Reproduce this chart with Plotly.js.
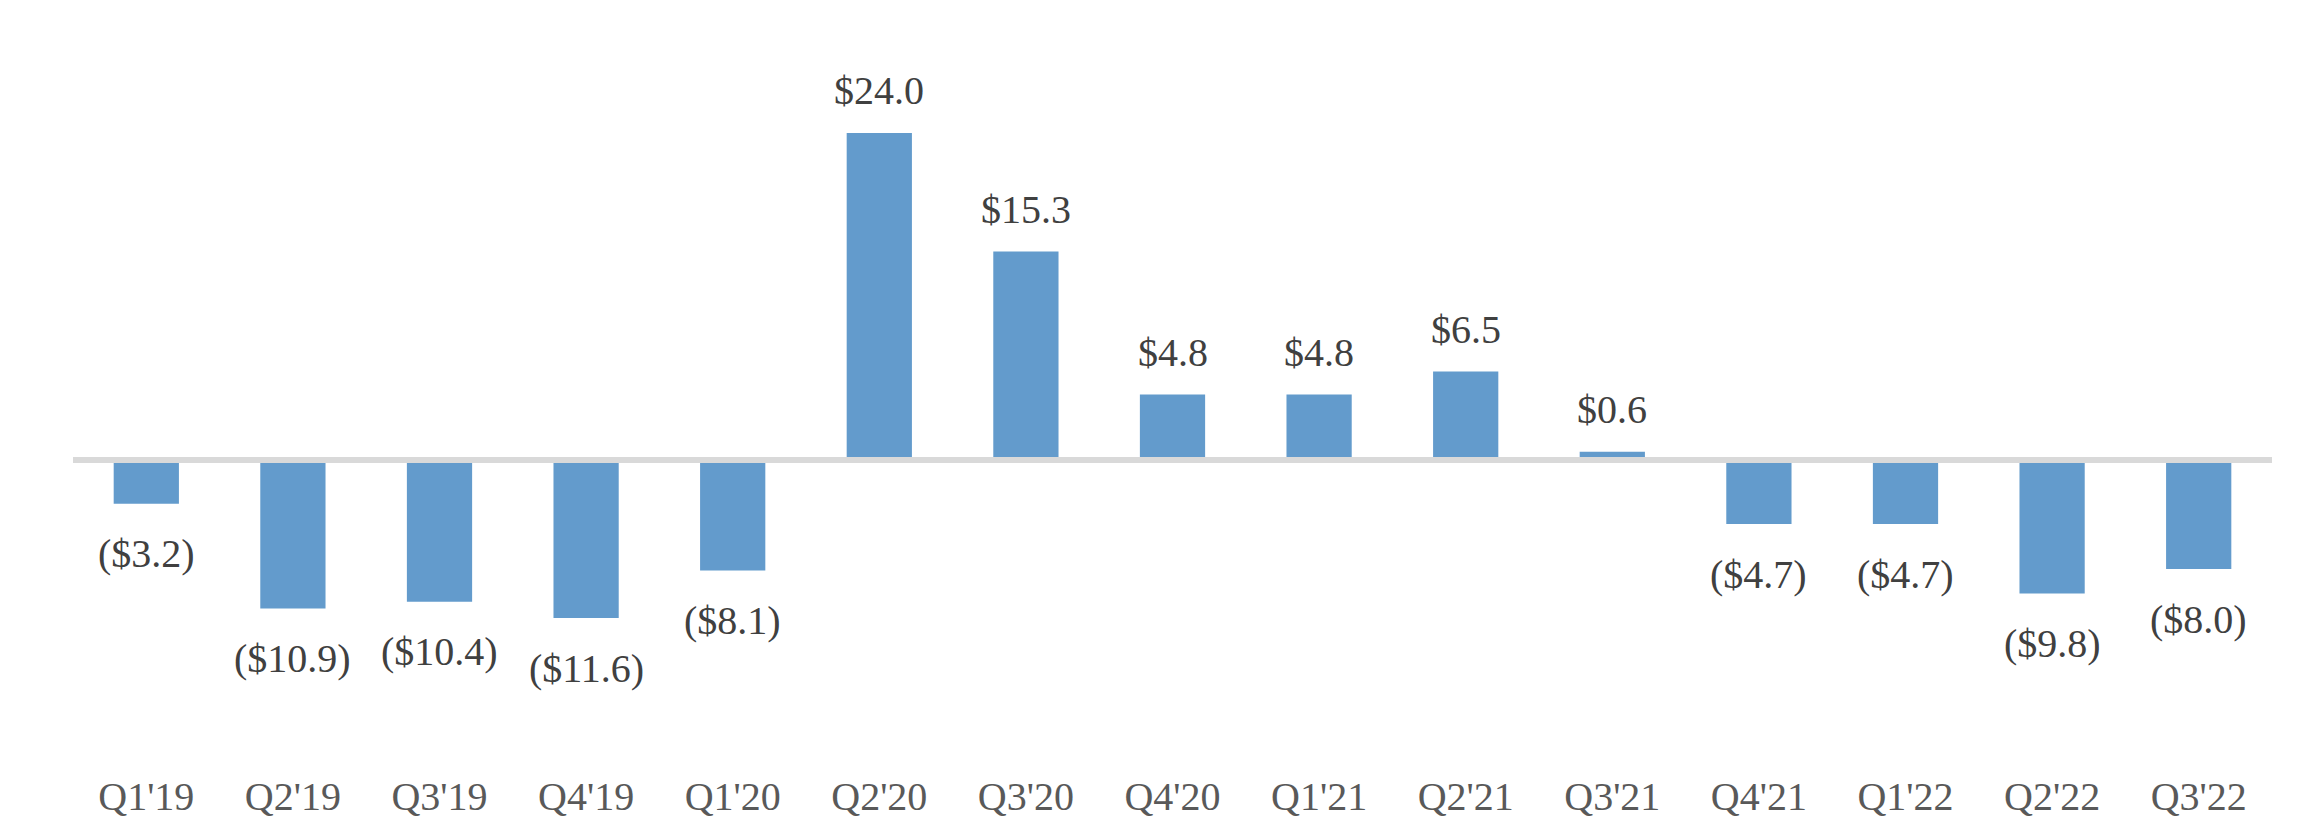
<!DOCTYPE html>
<html>
<head>
<meta charset="utf-8">
<script src="https://cdn.plot.ly/plotly-3.0.1.min.js"></script>
<style>
  html, body { margin: 0; padding: 0; background: #ffffff; }
  #chart { width: 2316px; height: 839px; }
</style>
</head>
<body>
<div id="chart"></div>
<script>
// Data (in $ millions)
const quarters = ["Q1'19", "Q2'19", "Q3'19", "Q4'19", "Q1'20", "Q2'20", "Q3'20", "Q4'20",
                  "Q1'21", "Q2'21", "Q3'21", "Q4'21", "Q1'22", "Q2'22", "Q3'22"];
const values = [-3.2, -10.9, -10.4, -11.6, -8.1, 24.0, 15.3, 4.8, 4.8, 6.5, 0.6, -4.7, -4.7, -9.8, -8.0];

function fmt(v) {
  const s = '$' + Math.abs(v).toFixed(1);
  return v < 0 ? '(' + s + ')' : s;
}

const barTrace = {
  type: 'bar',
  x: quarters,
  y: values,
  marker: { color: '#639bcc' },
  hoverinfo: 'x+y',
  showlegend: false
};

const annotations = quarters.map((q, i) => ({
  x: q,
  y: values[i],
  xref: 'x',
  yref: 'y',
  text: fmt(values[i]),
  showarrow: false,
  yanchor: 'middle',
  yshift: values[i] >= 0 ? 42 : -50,
  font: { family: 'Liberation Serif, Times New Roman, serif', size: 40, color: '#404040' }
}));

const layout = {
  width: 2316,
  height: 839,
  paper_bgcolor: '#ffffff',
  plot_bgcolor: '#ffffff',
  margin: { l: 73, r: 44, t: 30, b: 70 },
  bargap: 0.555,
  showlegend: false,
  xaxis: {
    type: 'category',
    showgrid: false,
    showline: false,
    zeroline: false,
    ticks: '',
    tickfont: { family: 'Liberation Serif, Times New Roman, serif', size: 40, color: '#595959' }
  },
  yaxis: {
    range: [-22.67, 31.55],
    showgrid: false,
    showline: false,
    zeroline: false,
    showticklabels: false,
    ticks: ''
  },
  shapes: [{
    type: 'line',
    xref: 'paper', yref: 'y',
    x0: 0, x1: 1, y0: 0, y1: 0,
    line: { color: '#d9d9d9', width: 6 },
    layer: 'above'
  }],
  annotations: annotations
};

Plotly.newPlot('chart', [barTrace], layout, { displayModeBar: false, staticPlot: true });
</script>
</body>
</html>
